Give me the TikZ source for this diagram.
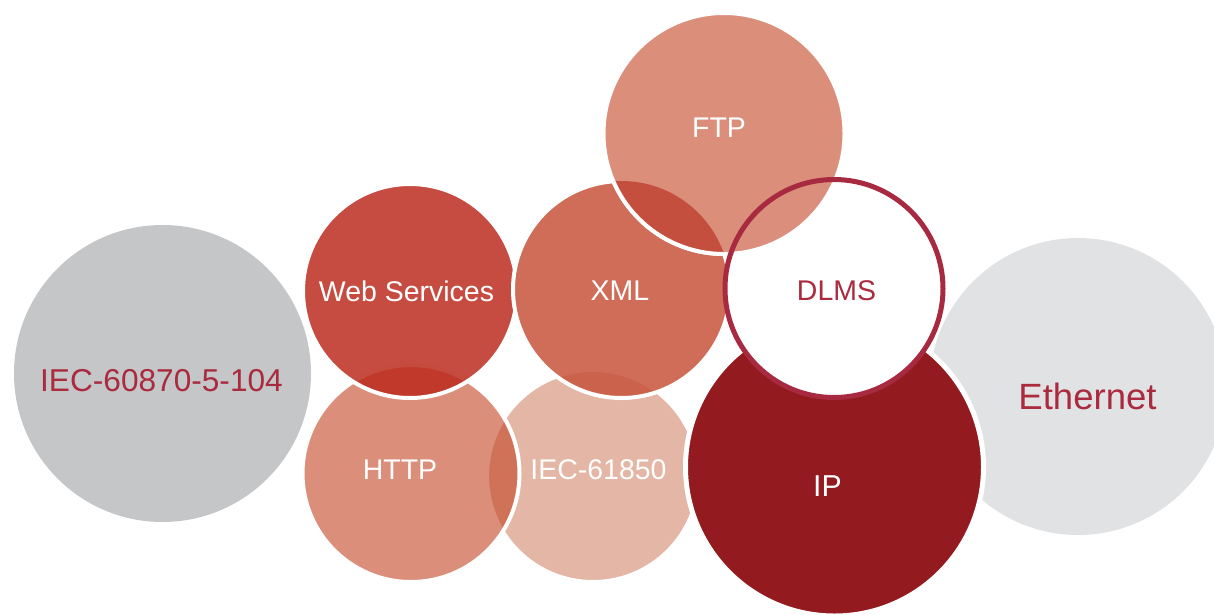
\documentclass[tikz,border=0pt]{standalone}
\usepackage{fontspec}
\setmainfont{Liberation Sans}
\usepackage{xcolor}
\usepackage{tikz}

\definecolor{greyDark}{HTML}{C5C6C8}
\definecolor{greyLight}{HTML}{E1E2E4}
\definecolor{ipRed}{HTML}{931A1E}
\definecolor{labelRed}{HTML}{AA2A3E}
\definecolor{ringRed}{HTML}{A82A40}
\definecolor{wsRed}{RGB}{188,44,30}
\definecolor{xmlRed}{RGB}{199,84,60}
\definecolor{ftpRed}{RGB}{213,123,100}
\definecolor{httpRed}{RGB}{197,74,42}
\definecolor{iecRed}{RGB}{223,169,149}
\definecolor{lensRed}{RGB}{197,79,62}

\begin{document}
\begin{tikzpicture}[
  x=0.1mm, y=-0.1mm,
  bubble/.style={draw=white, line width=0.4mm, fill opacity=0.85},
  tag/.style={inner sep=0pt, text=white, font=\fontsize{8.1}{9}\selectfont},
]
\useasboundingbox (0,0) rectangle (1214,614);

% Centres
\coordinate (cIec104) at (162.5,373.5);
\coordinate (cEth)    at (1078,386.5);
\coordinate (cIp)     at (834.5,467);
\coordinate (cDlms)   at (834,288.5);
\coordinate (cIec850) at (593,476);
\coordinate (cHttp)   at (411,473.5);
\coordinate (cWs)     at (410,291);
\coordinate (cXml)    at (621.5,289.5);
\coordinate (cFtp)    at (724,133.5);

% Grey bubbles
\fill[greyDark] (cIec104) circle[radius=148.5];
\fill[greyLight] (cEth) circle[radius=148.5];

% Red bubbles, back to front
\filldraw[bubble, fill=iecRed] (cIec850) circle[radius=106];
\filldraw[bubble, fill=httpRed, fill opacity=0.62] (cHttp) circle[radius=108.5];
\filldraw[bubble, fill=wsRed] (cWs) circle[radius=107];
\filldraw[bubble, fill=xmlRed] (cXml) circle[radius=108.5];

% IP and the white face of DLMS
\filldraw[ipRed, draw=white, line width=0.5mm] (cIp) circle[radius=149];
\fill[white] (cDlms) circle[radius=109];

% FTP on top
\filldraw[bubble, fill=ftpRed] (cFtp) circle[radius=120.5];

% FTP / XML overlap
\begin{scope}
  \clip (cXml) circle[radius=108.5];
  \fill[lensRed] (cFtp) circle[radius=120.5];
  \draw[white, line width=0.4mm] (cFtp) circle[radius=120.5];
\end{scope}

% DLMS ring
\draw[ringRed, line width=0.5mm] (cDlms) circle[radius=109];

% Labels
\node[tag, text=labelRed, font=\fontsize{9}{10}\selectfont] (iec104) at (161.5,381) {IEC-60870-5-104};
\node[tag, text=labelRed, font=\fontsize{10.4}{12}\selectfont] (eth) at (1087.5,396) {Ethernet};
\node[tag, font=\fontsize{8.6}{10}\selectfont] (ip) at (827.5,486) {IP};
\node[tag, text=labelRed] (dlms) at (836.5,291) {DLMS};
\node[tag] (iec850) at (598.5,470) {IEC-61850};
\node[tag] (http) at (400,470) {HTTP};
\node[tag] (ws) at (406.5,291) {Web Services};
\node[tag] (xml) at (620,291) {XML};
\node[tag] (ftp) at (719,128) {FTP};
\end{tikzpicture}
\end{document}
